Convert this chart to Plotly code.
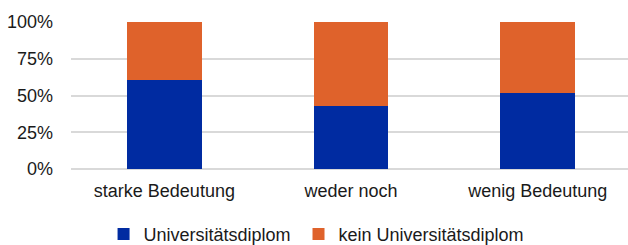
import plotly.graph_objects as go

categories = ["starke Bedeutung", "weder noch", "wenig Bedeutung"]
uni = [0.606, 0.43, 0.514]
kein = [1 - v for v in uni]
series_names = ["Universitätsdiplom", "kein Universitätsdiplom"]
y_ticks = [0, 0.25, 0.5, 0.75, 1.0]
y_ticklabels = ["0%", "25%", "50%", "75%", "100%"]

fig = go.Figure()
fig.add_trace(go.Bar(x=categories, y=uni, name=series_names[0], legend="legend",
                     marker=dict(color="#002BA1", line=dict(width=0))))
fig.add_trace(go.Bar(x=categories, y=kein, name=series_names[1], legend="legend2",
                     marker=dict(color="#DF622B", line=dict(width=0))))

legend_common = dict(orientation="h", xanchor="left", y=-0.445, yanchor="middle",
                     font=dict(size=18), itemwidth=30, indentation=-12,
                     bgcolor="rgba(0,0,0,0)")

fig.update_layout(
    barmode="stack",
    bargap=0.6,
    width=628, height=245,
    margin=dict(l=71, r=0, t=22, b=76, autoexpand=False),
    paper_bgcolor="white", plot_bgcolor="white",
    font=dict(family="Liberation Sans, Arial", size=18, color="#1a1a1a"),
    showlegend=True,
    legend=dict(x=0.08, **legend_common),
    legend2=dict(x=0.430, **legend_common),
    xaxis=dict(showgrid=False, showline=False, ticks="", ticklabelstandoff=9,
               range=[-0.5, 2.483], automargin=False),
    yaxis=dict(range=[0, 1.0], tickvals=y_ticks, ticktext=y_ticklabels,
               showgrid=True, gridcolor="#D9D9D9", gridwidth=1.5,
               zeroline=True, zerolinecolor="#D9D9D9", zerolinewidth=1.5,
               showline=False, ticks="", ticklabelstandoff=17, automargin=False),
)
fig.write_html("out.html", config={"displayModeBar": False},
               post_script="document.body.style.margin='0';document.body.style.overflow='hidden';")
